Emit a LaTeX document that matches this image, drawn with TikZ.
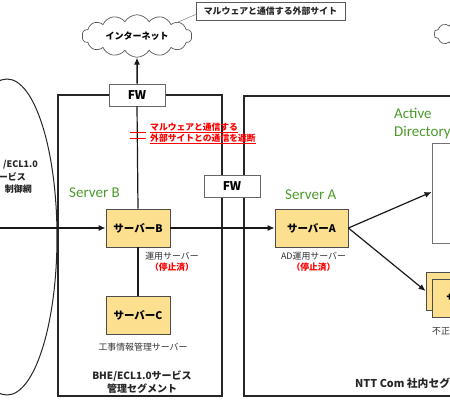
\documentclass[tikz,border=0pt]{standalone}
\usepackage{fontspec}
\setmainfont{Noto Sans CJK JP}
\newfontfamily\latinfont{Carlito}
\usetikzlibrary{shapes.symbols,shapes.geometric,arrows.meta}
\definecolor{srv}{HTML}{FCE08F}
\definecolor{grn}{HTML}{4C9A2A}
\tikzset{
 x=1pt,y=-1pt,
 seg/.style={draw=black!85,line width=1.6pt},
 link/.style={draw=black!90,line width=1.2pt},
 arr/.style={link,-{Latex[length=7pt,width=6pt]}},
 srvbox/.style={draw=black!70,line width=.8pt,fill=srv,inner sep=0pt,font=\bfseries\fontsize{10.5}{12}\selectfont},
 fwbox/.style={draw=black!60,line width=.8pt,fill=white,minimum width=56pt,minimum height=22pt,inner sep=0pt,font=\bfseries\fontsize{12}{13}\selectfont},
 cloudy/.style={cloud,cloud puffs=14,cloud puff arc=120,draw=black!65,line width=.7pt,fill=white,aspect=2.8,inner sep=0pt},
 small/.style={font=\fontsize{8.9}{11}\selectfont,text=black!80,align=center,inner sep=0pt},
 redt/.style={font=\bfseries\fontsize{8.8}{11}\selectfont,text=red,align=center,inner sep=0pt},
 title/.style={font=\bfseries\fontsize{10}{13}\selectfont,text=black!85,align=center,inner sep=0pt},
 green/.style={font=\latinfont\fontsize{15}{18}\selectfont,text=grn,align=left,inner sep=0pt},
 ecltext/.style={font=\bfseries\fontsize{9}{11}\selectfont,text=black!85,anchor=east,inner sep=0pt},
}
\begin{document}
\begin{tikzpicture}
\useasboundingbox (0,0) rectangle (450,400);
\clip (0,0) rectangle (450,400);
% ellipse
\node[ellipse,draw=black!85,line width=1pt,minimum width=100pt,minimum height=316pt,inner sep=0pt] (net) at (7,237) {};
% segments
\node[seg,rectangle,minimum width=164pt,minimum height=301pt,inner sep=0pt] (segB) at (140,245.5) {};
\node[seg,rectangle,minimum width=260pt,minimum height=300pt,inner sep=0pt] (segA) at (374,246) {};
% clouds
\node[cloudy,minimum width=110pt,minimum height=36pt] (inet) at (137,36) {\fontsize{9}{11}\selectfont\bfseries インターネット};
\node[cloudy,minimum width=80pt,minimum height=30pt] (cloud2) at (474,34) {};
% site label
\node[draw=black!65,line width=.7pt,fill=white,minimum width=149pt,minimum height=18pt,inner sep=0pt,font=\bfseries\fontsize{8.9}{10}\selectfont,text=black!85] (site) at (270.5,11.5) {マルウェアと通信する外部サイト};
\coordinate (sitel) at (176,23);
\draw[black!45,line width=.6pt] (site.west) ++(0,3) -- (sitel);
% FW + servers
\node[fwbox] (fwa) at (137,95) {FW};
\node[srvbox,minimum width=64pt,minimum height=38pt] (sb) at (138,228) {サーバーB};
\node[srvbox,minimum width=64pt,minimum height=38pt] (sc) at (138,315) {サーバーC};
\node[srvbox,minimum width=73pt,minimum height=38pt] (sa) at (311.5,228) {サーバーA};
% AD box
\node[draw=black!55,line width=.8pt,fill=white,minimum width=40pt,minimum height=100pt,inner sep=0pt] (ad) at (452,193.5) {};
% stacked servers
\node[srvbox,minimum width=50pt,minimum height=38pt] (pb) at (451,291) {};
\node[srvbox,minimum width=50pt,minimum height=38pt,anchor=west,align=left,text width=50pt] (pf) at (432,298.5) {\hspace{14pt}サ};
% connectors
\coordinate (wl) at (0,228);
\draw[arr] (wl) -- (sb.west);
\draw[link] (sb.north) -- (fwa.south);
\draw[link] (sb.south) -- (sc.north);
\draw[arr,line width=1.5pt] (fwa.north) -- (inet.south);
\node[fwbox] (fwb) at (232,186.5) {FW};
\draw[arr] (sb.east) -- (sa.west);
\draw[arr] (sa.east) -- (ad.west |- 0,192);
\draw[arr] (sa.east) -- (pb.west |- 0,291);
% cut marks
\coordinate (c1) at (130,132.5);
\coordinate (c2) at (146,132.5);
\coordinate (c3) at (130,138.5);
\coordinate (c4) at (146,138.5);
\draw[red,line width=1.6pt] (c1) -- (c2) (c3) -- (c4);
% labels
\node[redt,anchor=west,align=left] (cut) at (150,133.5) {\underline{マルウェアと通信する}\\\underline{外部サイトとの通信を遮断}};
\node[ecltext] (e1) at (38,165) {/ECL1.0};
\node[ecltext] (e2) at (26,177) {ービス};
\node[ecltext] (e3) at (32,189) {制御網};
\node[green,anchor=west] (gb) at (69,193) {Server B};
\node[green,anchor=west] (ga) at (285,195) {Server A};
\node[green,anchor=west] (gd) at (394,113) {Active};
\node[green,anchor=west] (gd2) at (394,133) {Directory};
\node[small] (lb) at (172,256) {運用サーバー};
\node[redt] (lbr) at (172,267) {（停止済）};
\node[small] (lc) at (143,347) {工事情報管理サーバー};
\node[title] (tb) at (142,382) {BHE/ECL1.0サービス\\管理セグメント};
\node[small] (la) at (313.5,256) {AD運用サーバー};
\node[redt] (lar) at (313.5,267) {（停止済）};
\node[title,anchor=west,font=\bfseries\fontsize{10.8}{13}\selectfont] (ta) at (355,383) {NTT Com 社内セグ};
\node[small,anchor=west] (lp) at (432,331) {不正};
\end{tikzpicture}
\end{document}
